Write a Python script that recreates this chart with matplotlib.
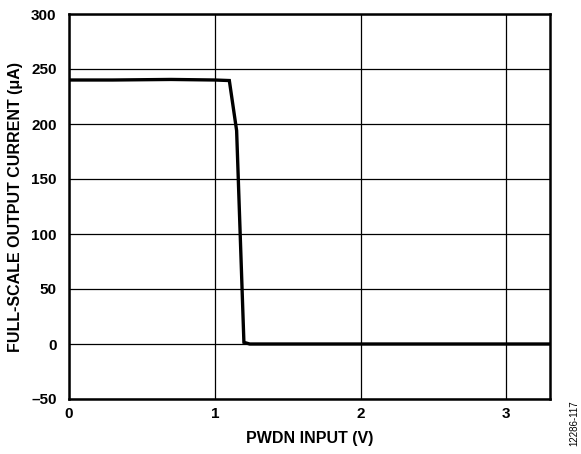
import matplotlib
matplotlib.use('Agg')
import matplotlib.pyplot as plt

plt.rcParams['font.family'] = ['Liberation Sans', 'DejaVu Sans']

# PWDN input voltage (V) vs full-scale output current (uA)
pwdn_v = [0.0, 0.3, 0.7, 1.0, 1.1, 1.15, 1.2, 1.24, 1.5, 2.0, 2.5, 3.0, 3.3]
current_ua = [240, 240, 240.5, 240, 239.5, 194, 1.5, 0, 0, 0, 0, 0, 0]

x_ticks = [0, 1, 2, 3]
y_ticks = [-50, 0, 50, 100, 150, 200, 250, 300]
y_tick_labels = ['\u201350', '0', '50', '100', '150', '200', '250', '300']

fig = plt.figure(figsize=(5.81, 4.54), dpi=100)
ax = fig.add_axes([69 / 581, 55 / 454, 481 / 581, 385 / 454])

ax.plot(pwdn_v, current_ua, color='black', lw=2.4, solid_joinstyle='miter')

ax.set_xlim(0, 3.3)
ax.set_ylim(-50, 300)
ax.set_xticks(x_ticks)
ax.set_xticklabels([str(t) for t in x_ticks], fontweight='bold', fontsize=11)
ax.set_yticks(y_ticks)
ax.set_yticklabels(y_tick_labels, fontweight='bold', fontsize=11)
ax.tick_params(axis='y', length=0, pad=9)
ax.tick_params(axis='x', length=0, pad=6)
ax.grid(True, color='black', lw=0.9)
ax.set_axisbelow(True)
for s in ax.spines.values():
    s.set_linewidth(1.8)

ax.set_xlabel('PWDN INPUT (V)', fontweight='bold', fontsize=11.5, labelpad=7)
ax.set_ylabel('FULL-SCALE OUTPUT CURRENT (\u03bcA)', fontweight='bold', fontsize=11.5, labelpad=6)

fig.text(0.988, 0.119, '12286-117', rotation=90, fontsize=7, ha='center', va='top')

fig.savefig('out.png', dpi=100)
